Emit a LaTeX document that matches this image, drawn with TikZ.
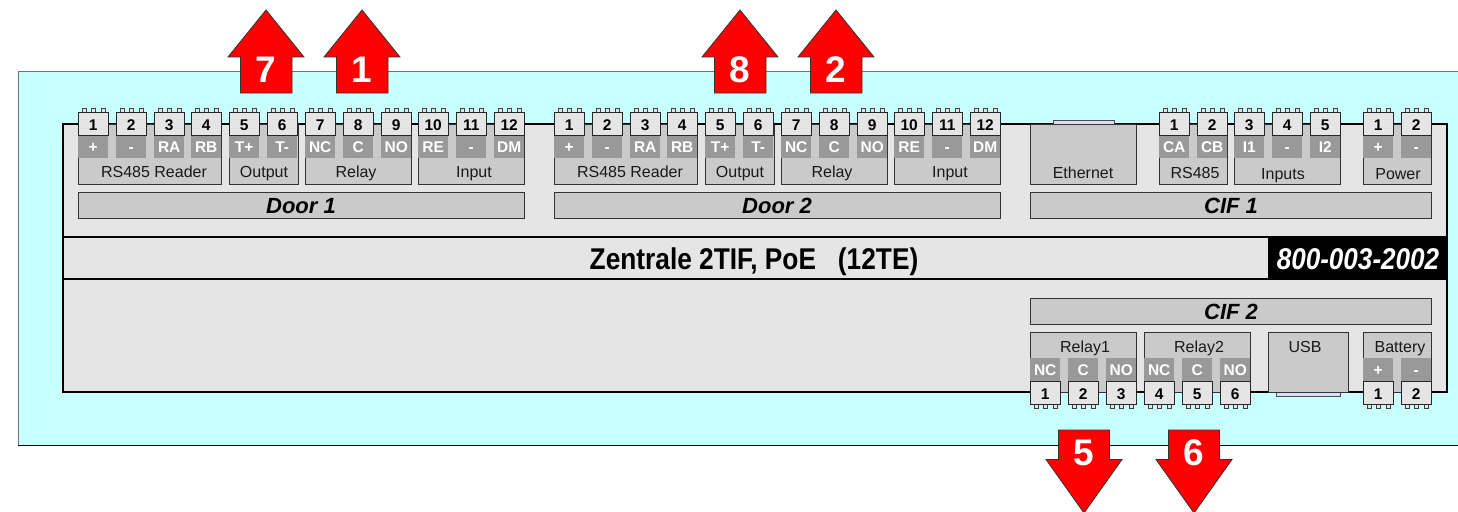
\documentclass[tikz,border=0pt]{standalone}
\usepackage{fontspec}
\usepackage{graphicx}
\setmainfont{Liberation Sans}
\definecolor{cyanbg}{HTML}{C8FFFF}
\definecolor{panel}{HTML}{E5E5E5}
\definecolor{grp}{HTML}{CACACA}
\definecolor{lab}{HTML}{999999}
\definecolor{lip}{HTML}{DDDDF5}
\tikzset{
  x=1pt,y=-1pt,
  bx/.style={anchor=north west,inner sep=0pt,outer sep=0pt,draw=#1,line width=1pt},
  grpbox/.style={bx=black!80,fill=grp},
  panelbox/.style={bx=black,fill=panel,line width=2pt},
  labbox/.style={anchor=north west,inner sep=0pt,outer sep=0pt,fill=lab},
  termbox/.style={bx=black!85,fill=panel},
  pinbox/.style={bx=black!75,fill=panel,line width=.8pt},
  lipbox/.style={bx=black!70,fill=lip},
  tx/.style={anchor=base,inner sep=0pt,font=\fontsize{16}{16}\selectfont,text=black!90},
  num/.style={anchor=base,inner sep=0pt,font=\fontsize{15.5}{16}\bfseries\selectfont},
  wlab/.style={anchor=base,inner sep=0pt,font=\fontsize{15.5}{16}\bfseries\selectfont,text=white},
  head/.style={anchor=base,inner sep=0pt,font=\fontsize{22}{22}\bfseries\itshape\selectfont},
  bignum/.style={anchor=base,inner sep=0pt,font=\fontsize{37}{37}\bfseries\selectfont,text=white},
  redarrow/.style={draw=black!80,fill=red,line width=.8pt,line join=miter},
}
% name, x1, y1, x2, y2, style
\newcommand{\bxn}[6]{\node[#6,minimum width={((#4)-(#2))*1pt},minimum height={((#5)-(#3))*1pt}] (#1) at ({#2},{#3}) {};}
% terminal top: id, left x, number
\newcommand{\termT}[3]{%
  \foreach \ox/\pn in {4/a,13/b,23/c}{\bxn{#1p\pn}{#2+\ox}{108}{#2+\ox+4}{112}{pinbox}}%
  \bxn{#1}{#2}{112}{#2+30}{135}{termbox}%
  \node[num] (#1n) at ({#2+15.2},130) {#3};}
% terminal bottom
\newcommand{\termB}[3]{%
  \foreach \ox/\pn in {4/a,13/b,23/c}{\bxn{#1p\pn}{#2+\ox}{404}{#2+\ox+4}{408}{pinbox}}%
  \bxn{#1}{#2}{381}{#2+30}{404}{termbox}%
  \node[num] (#1n) at ({#2+15.2},399) {#3};}
% label square: id, left x, top y, text
\newcommand{\labl}[4]{%
  \bxn{#1}{#2}{#3}{#2+30}{#3+23}{labbox}%
  \node[wlab] (#1t) at ({#2+15.2},{#3+17}) {#4};}
% up arrow: id, centre x, number
\newcommand{\arrowUp}[3]{%
  \draw[redarrow] (#2,10) -- (#2+38,57) -- (#2+26,57) -- (#2+26,93) -- (#2-25.5,93) -- (#2-25.5,57) -- (#2-38,57) -- cycle;
  \node[bignum] (#1) at (#2,82) {#3};}
\newcommand{\arrowDown}[3]{%
  \draw[redarrow] (#2,513) -- (#2+38,459.5) -- (#2+25.5,459.5) -- (#2+25.5,430) -- (#2-25.5,430) -- (#2-25.5,459.5) -- (#2-38,459.5) -- cycle;
  \node[bignum] (#1) at (#2,465) {#3};}
% a door block: prefix, x offset, heading
\newcommand{\door}[3]{%
  \bxn{#1g}{#2+78}{124}{#2+221}{184}{grpbox}
  \bxn{#1h}{#2+229}{124}{#2+298}{184}{grpbox}
  \bxn{#1i}{#2+305}{124}{#2+411}{184}{grpbox}
  \bxn{#1j}{#2+418}{124}{#2+524}{184}{grpbox}
  \bxn{#1k}{#2+78}{192}{#2+524}{218}{grpbox}
  \node[tx] (#1gt) at ({#2+154},177) {RS485 Reader};
  \node[tx] (#1ht) at ({#2+264},177) {Output};
  \node[tx] (#1it) at ({#2+356},177) {Relay};
  \node[tx] (#1jt) at ({#2+474},177) {Input};
  \node[head] (#1kt) at ({#2+301},213) {#3};
  \foreach \i/\xx/\lb in {1/78/+,2/116/-,3/154/RA,4/191/RB,5/229/T+,6/267/T-,7/305/NC,8/343/C,9/381/NO,10/418/RE,11/456/-,12/494/DM}{
    \labl{#1l\i}{#2+\xx}{135}{\lb}
    \termT{#1t\i}{#2+\xx}{\i}
  }}
\begin{document}
\begin{tikzpicture}
\useasboundingbox (0,0) rectangle (1458,511);
\fill[cyanbg] (18,71) rectangle (1458,445);
\draw[black!55,line width=1pt] (1458,71) -- (18,71) -- (18,445);
\draw[black,line width=1pt] (18,445) -- (1458,445);
% board
\bxn{board}{63}{124}{1447}{392}{panelbox}
\bxn{band}{63}{237}{1447}{279}{panelbox}
\bxn{code}{1268}{237}{1447}{279}{anchor=north west,inner sep=0pt,fill=black}
\node[anchor=base,inner sep=0pt,font=\fontsize{30}{30}\bfseries\selectfont] (title) at (754,269) {\scalebox{.876}[1]{Zentrale 2TIF, PoE\ \ \ (12TE)}};
\node[anchor=base,inner sep=0pt,text=white,font=\fontsize{30}{30}\bfseries\itshape\selectfont] (codet) at (1358,269) {\scalebox{.87}[1]{800-003-2002}};
% doors
\door{da}{0}{Door 1}
\door{db}{476}{Door 2}
% CIF 1
\bxn{elip}{1053}{120}{1114}{124}{lipbox}
\bxn{eth}{1030}{124}{1136.5}{184}{grpbox}
\node[tx] (etht) at (1083,178) {Ethernet};
\bxn{cg}{1159}{124}{1227}{184}{grpbox}
\bxn{ch}{1234}{124}{1340}{184}{grpbox}
\bxn{ci}{1363}{124}{1431}{184}{grpbox}
\node[tx] (cgt) at (1195,178) {RS485};
\node[tx] (cht) at (1283,179) {Inputs};
\node[tx] (cit) at (1398,179) {Power};
\bxn{cif1}{1030}{192}{1431}{218}{grpbox}
\node[head] (cif1t) at (1231,213) {CIF 1};
\foreach \i/\xx/\lb/\nn in {a/1159/CA/1,b/1197/CB/2,c/1234/I1/3,d/1272/-/4,e/1310/I2/5,f/1363/+/1,g/1401/-/2}{
  \labl{cl\i}{\xx}{135}{\lb}
  \termT{ct\i}{\xx}{\nn}
}
% CIF 2
\bxn{cif2}{1030}{298}{1431}{324}{grpbox}
\node[head] (cif2t) at (1231,319) {CIF 2};
\bxn{rl1}{1030}{332}{1136.5}{392}{grpbox}
\bxn{rl2}{1144}{332}{1250}{392}{grpbox}
\bxn{usblip}{1276}{392}{1340}{396}{lipbox}
\bxn{usb}{1268}{332}{1348}{392}{grpbox}
\bxn{bat}{1363}{332}{1431}{392}{grpbox}
\node[tx] (rl1t) at (1085,352) {Relay1};
\node[tx] (rl2t) at (1199,352) {Relay2};
\node[tx] (usbt) at (1305,352) {USB};
\node[tx] (batt) at (1400,352) {Battery};
\foreach \i/\xx/\lb/\nn in {a/1030/NC/1,b/1068/C/2,c/1106/NO/3,d/1144/NC/4,e/1182/C/5,f/1220/NO/6,g/1363/+/1,h/1401/-/2}{
  \labl{bl\i}{\xx}{358}{\lb}
  \termB{bt\i}{\xx}{\nn}
}
% arrows
\arrowUp{a7}{266}{7}
\arrowUp{a1}{362}{1}
\arrowUp{a8}{740}{8}
\arrowUp{a2}{836}{2}
\arrowDown{a5}{1084}{5}
\arrowDown{a6}{1194}{6}
\end{tikzpicture}
\end{document}
